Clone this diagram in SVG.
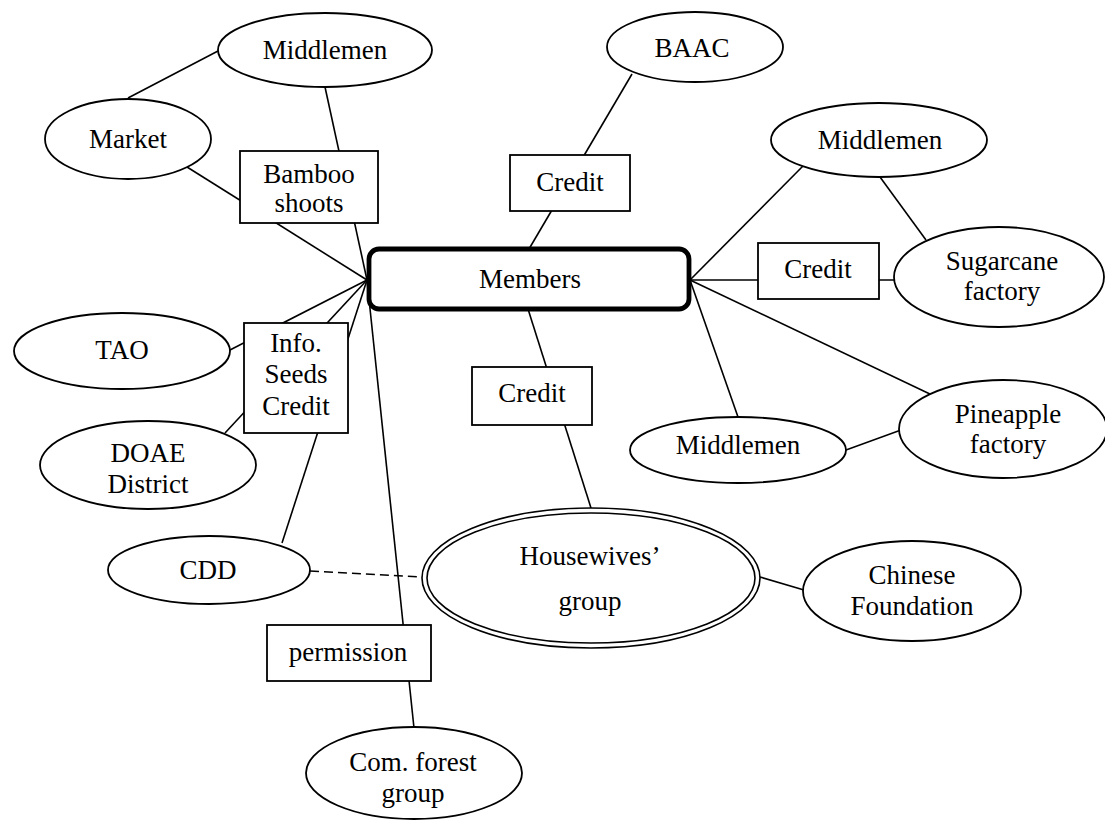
<svg xmlns="http://www.w3.org/2000/svg" width="1105" height="821" viewBox="0 0 1105 821">
  <style>
    .bg { fill: #ffffff; }
    .link { stroke: #000; stroke-width: 1.6; fill: none; }
    .dash { stroke: #000; stroke-width: 1.6; fill: none; stroke-dasharray: 9 5; }
    .oval { fill: #fff; stroke: #000; stroke-width: 1.8; }
    .box { fill: #fff; stroke: #000; stroke-width: 1.8; }
    .core { fill: #fff; stroke: #000; stroke-width: 4.8; }
    .dbl { fill: #fff; stroke: #000; stroke-width: 1.6; }
    text { font-family: "Liberation Serif", "Times New Roman", serif; font-size: 27px; fill: #000; text-anchor: middle; }
  </style>
  <rect class="bg" x="0" y="0" width="1105" height="821"/>

  <!-- connectors -->
  <g id="connectors">
    <line class="link" x1="128" y1="98" x2="218" y2="51"/>
    <line class="link" x1="325" y1="87" x2="367" y2="280"/>
    <line class="link" x1="187" y1="167" x2="367" y2="280"/>
    <line class="link" x1="632" y1="74" x2="529" y2="249"/>
    <line class="link" x1="690" y1="280" x2="803" y2="166"/>
    <line class="link" x1="880" y1="177" x2="926" y2="240"/>
    <line class="link" x1="690" y1="280" x2="895" y2="280"/>
    <line class="link" x1="690" y1="280" x2="932" y2="395"/>
    <line class="link" x1="690" y1="280" x2="738" y2="417"/>
    <line class="link" x1="846" y1="450" x2="901" y2="430"/>
    <line class="link" x1="528" y1="309" x2="591" y2="508"/>
    <line class="link" x1="760" y1="577" x2="804" y2="590"/>
    <line class="link" x1="230" y1="350" x2="367" y2="280"/>
    <line class="link" x1="225" y1="433" x2="367" y2="280"/>
    <line class="link" x1="282" y1="543" x2="367" y2="280"/>
    <line class="link" x1="367" y1="280" x2="414" y2="728"/>
    <line class="dash" x1="310" y1="571" x2="422" y2="577"/>
  </g>

  <!-- central node -->
  <g id="members">
    <rect class="core" x="369" y="249" width="320" height="60" rx="10" ry="10"/>
    <text x="530" y="288">Members</text>
  </g>

  <!-- bamboo trade -->
  <g id="middlemen-bamboo">
    <ellipse class="oval" cx="325" cy="50" rx="107" ry="37"/>
    <text x="325" y="59">Middlemen</text>
  </g>
  <g id="market">
    <ellipse class="oval" cx="128" cy="139" rx="83" ry="40"/>
    <text x="128" y="148">Market</text>
  </g>
  <g id="bamboo-shoots">
    <rect class="box" x="240" y="151" width="138" height="72"/>
    <text x="309" y="183">Bamboo</text>
    <text x="309" y="212">shoots</text>
  </g>

  <!-- BAAC credit -->
  <g id="baac">
    <ellipse class="oval" cx="695" cy="47" rx="88" ry="35"/>
    <text x="692" y="57">BAAC</text>
  </g>
  <g id="credit-baac">
    <rect class="box" x="510" y="155" width="120" height="56"/>
    <text x="570" y="191">Credit</text>
  </g>

  <!-- sugarcane branch -->
  <g id="middlemen-sugarcane">
    <ellipse class="oval" cx="879" cy="140" rx="108" ry="37"/>
    <text x="880" y="149">Middlemen</text>
  </g>
  <g id="credit-sugarcane">
    <rect class="box" x="758" y="243" width="121" height="56"/>
    <text x="818" y="278">Credit</text>
  </g>
  <g id="sugarcane-factory">
    <ellipse class="oval" cx="999" cy="277" rx="105" ry="50"/>
    <text x="1002" y="270">Sugarcane</text>
    <text x="1002" y="300">factory</text>
  </g>

  <!-- pineapple branch -->
  <g id="middlemen-pineapple">
    <ellipse class="oval" cx="738" cy="450" rx="108" ry="33"/>
    <text x="738" y="454">Middlemen</text>
  </g>
  <g id="pineapple-factory">
    <ellipse class="oval" cx="1003" cy="429" rx="104" ry="49"/>
    <text x="1008" y="423">Pineapple</text>
    <text x="1008" y="453">factory</text>
  </g>

  <!-- housewives branch -->
  <g id="credit-housewives">
    <rect class="box" x="472" y="367" width="120" height="58"/>
    <text x="532" y="402">Credit</text>
  </g>
  <g id="housewives-group">
    <ellipse class="dbl" cx="591" cy="578" rx="169" ry="70"/>
    <ellipse class="dbl" cx="591" cy="578" rx="164" ry="65"/>
    <text x="590" y="565">Housewives’</text>
    <text x="590" y="610">group</text>
  </g>
  <g id="chinese-foundation">
    <ellipse class="oval" cx="912" cy="591" rx="109" ry="50"/>
    <text x="912" y="584">Chinese</text>
    <text x="912" y="615">Foundation</text>
  </g>

  <!-- government agencies -->
  <g id="tao">
    <ellipse class="oval" cx="122" cy="351" rx="108" ry="38"/>
    <text x="122" y="359">TAO</text>
  </g>
  <g id="doae-district">
    <ellipse class="oval" cx="148" cy="465" rx="108" ry="44"/>
    <text x="148" y="462">DOAE</text>
    <text x="148" y="493">District</text>
  </g>
  <g id="info-seeds-credit">
    <rect class="box" x="244" y="323" width="104" height="110"/>
    <text x="296" y="352">Info.</text>
    <text x="296" y="383">Seeds</text>
    <text x="296" y="415">Credit</text>
  </g>
  <g id="cdd">
    <ellipse class="oval" cx="209" cy="570" rx="101" ry="34"/>
    <text x="208" y="579">CDD</text>
  </g>

  <!-- community forest -->
  <g id="permission">
    <rect class="box" x="267" y="625" width="164" height="56"/>
    <text x="348" y="661">permission</text>
  </g>
  <g id="com-forest-group">
    <ellipse class="oval" cx="414" cy="773" rx="108" ry="46"/>
    <text x="413" y="771">Com. forest</text>
    <text x="413" y="802">group</text>
  </g>
</svg>
